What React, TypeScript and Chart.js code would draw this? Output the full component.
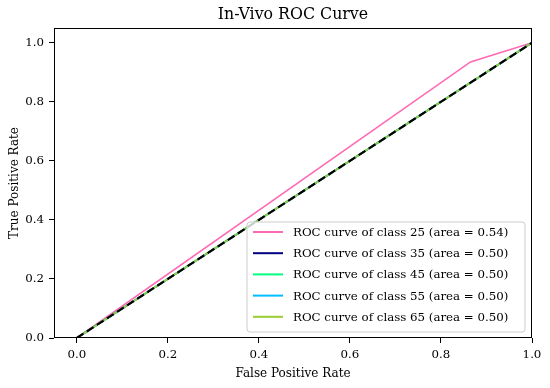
import React, { useEffect, useRef } from 'react';
import { Chart, registerables } from 'chart.js';

Chart.register(...registerables);

const classNames = ['25', '35', '45', '55', '65'];
const areaValues = ['0.54', '0.50', '0.50', '0.50', '0.50'];
const classColors = ['#ff69b4', '#000080', '#00ff7f', '#00bfff', '#9acd32'];
const fpr25 = [0, 0.865, 1];
const tpr25 = [0, 0.935, 1];
const fprChance = [0, 1];
const tprChance = [0, 1];
const xTicks = [0, 0.2, 0.4, 0.6, 0.8, 1.0];
const yTicks = [0, 0.2, 0.4, 0.6, 0.8, 1.0];
const titleText = 'In-Vivo ROC Curve';
const xTitle = 'False Positive Rate';
const yTitle = 'True Positive Rate';

const FONT = '"DejaVu Serif", serif';

const toPoints = (xs: number[], ys: number[]) => xs.map((x, i) => ({ x, y: ys[i] }));

const decorPlugin = {
  id: 'decor',
  afterDatasetsDraw(chart: any) {
    const { ctx, chartArea } = chart;
    const { left, right, top, bottom } = chartArea;
    ctx.save();
    // frame
    ctx.strokeStyle = '#000';
    ctx.lineWidth = 1;
    ctx.strokeRect(Math.round(left) + 0.5, Math.round(top) + 0.5, Math.round(right - left) - 1, Math.round(bottom - top) - 1);

    // legend
    const entries = chart.data.datasets.filter((d: any) => d.showInLegend);
    const boxRight = right - 7;
    const boxBottom = bottom - 6;
    const rowH = 21.2;
    const boxH = entries.length * rowH + 4;
    const boxW = 278;
    const boxLeft = boxRight - boxW;
    const boxTop = boxBottom - boxH;
    ctx.fillStyle = 'rgba(255,255,255,0.8)';
    ctx.strokeStyle = '#cccccc';
    ctx.lineWidth = 1;
    const r = 3;
    ctx.beginPath();
    ctx.moveTo(boxLeft + r, boxTop);
    ctx.lineTo(boxRight - r, boxTop);
    ctx.quadraticCurveTo(boxRight, boxTop, boxRight, boxTop + r);
    ctx.lineTo(boxRight, boxBottom - r);
    ctx.quadraticCurveTo(boxRight, boxBottom, boxRight - r, boxBottom);
    ctx.lineTo(boxLeft + r, boxBottom);
    ctx.quadraticCurveTo(boxLeft, boxBottom, boxLeft, boxBottom - r);
    ctx.lineTo(boxLeft, boxTop + r);
    ctx.quadraticCurveTo(boxLeft, boxTop, boxLeft + r, boxTop);
    ctx.closePath();
    ctx.fill();
    ctx.stroke();
    ctx.font = `11.8px ${FONT}`;
    ctx.textBaseline = 'middle';
    ctx.textAlign = 'left';
    entries.forEach((d: any, i: number) => {
      const y = boxTop + 10 + i * rowH;
      ctx.strokeStyle = d.borderColor;
      ctx.lineWidth = 2;
      ctx.setLineDash([]);
      ctx.beginPath();
      ctx.moveTo(boxLeft + 6, y);
      ctx.lineTo(boxLeft + 36, y);
      ctx.stroke();
      ctx.fillStyle = '#000';
      ctx.fillText(d.label, boxLeft + 46, y + 1);
    });

    // title and axis titles
    ctx.fillStyle = '#000';
    ctx.textAlign = 'center';
    ctx.textBaseline = 'middle';
    ctx.font = `15.8px ${FONT}`;
    ctx.fillText(titleText, (left + right) / 2, 15);
    ctx.font = `12px ${FONT}`;
    ctx.fillText(xTitle, (left + right) / 2, 374);
    ctx.save();
    ctx.translate(15, (top + bottom) / 2);
    ctx.rotate(-Math.PI / 2);
    ctx.fillText(yTitle, 0, 0);
    ctx.restore();
    ctx.restore();
  },
};

export default function App() {
  const canvasRef = useRef<HTMLCanvasElement | null>(null);

  useEffect(() => {
    document.body.style.margin = '0';
    const canvas = canvasRef.current;
    if (!canvas) return;

    const datasets: any[] = [];
    classNames.forEach((c, i) => {
      const isFirst = i === 0;
      datasets.push({
        label: `ROC curve of class ${c} (area = ${areaValues[i]})`,
        data: isFirst ? toPoints(fpr25, tpr25) : toPoints(fprChance, tprChance),
        borderColor: classColors[i],
        backgroundColor: classColors[i],
        borderWidth: 1.6,
        pointRadius: 0,
        fill: false,
        tension: 0,
        order: 10 - i,
        showInLegend: true,
      });
    });
    datasets.push({
      label: 'chance',
      data: toPoints(fprChance, tprChance),
      borderColor: '#000000',
      borderWidth: 2.2,
      borderDash: [8, 4],
      pointRadius: 0,
      fill: false,
      order: 0,
      showInLegend: false,
    });

    const tickFont = { family: FONT, size: 11.8 };

    const chart = new Chart(canvas, {
      type: 'line',
      data: { datasets },
      options: {
        animation: false,
        responsive: false,
        maintainAspectRatio: false,
        layout: { padding: { top: 28, right: 18, left: 0, bottom: 0 } },
        plugins: {
          legend: { display: false },
          title: { display: false },
          tooltip: { enabled: false },
        },
        scales: {
          x: {
            type: 'linear',
            min: -0.05,
            max: 1.0,
            afterBuildTicks: (scale: any) => {
              scale.ticks = xTicks.map((v) => ({ value: v }));
            },
            afterFit: (scale: any) => {
              scale.height = 50;
            },
            ticks: {
              font: tickFont,
              color: '#000',
              padding: 5,
              maxRotation: 0,
              autoSkip: false,
              callback: (v: any) => Number(v).toFixed(1),
            },
            grid: {
              display: true,
              drawOnChartArea: false,
              drawTicks: true,
              tickLength: 5,
              tickColor: '#000',
              tickWidth: 1,
            },
            border: { display: false },
          },
          y: {
            type: 'linear',
            min: 0,
            max: 1.05,
            afterBuildTicks: (scale: any) => {
              scale.ticks = yTicks.map((v) => ({ value: v }));
            },
            afterFit: (scale: any) => {
              scale.width = 54;
            },
            ticks: {
              font: tickFont,
              color: '#000',
              padding: 5,
              autoSkip: false,
              callback: (v: any) => Number(v).toFixed(1),
            },
            grid: {
              display: true,
              drawOnChartArea: false,
              drawTicks: true,
              tickLength: 5,
              tickColor: '#000',
              tickWidth: 1,
            },
            border: { display: false },
          },
        },
      } as any,
      plugins: [decorPlugin],
    });

    return () => {
      chart.destroy();
    };
  }, []);

  return (
    <div style={{ width: 550, height: 388, background: '#fff' }}>
      <canvas ref={canvasRef} width={550} height={388} style={{ display: 'block' }} />
    </div>
  );
}
